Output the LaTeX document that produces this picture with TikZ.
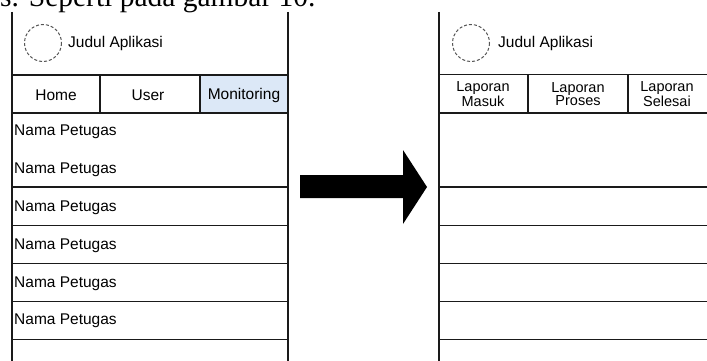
\documentclass[tikz,border=0pt]{standalone}
\usepackage{fontspec}
\setmainfont{Liberation Serif}
\newfontfamily\uifont{Liberation Sans}
\definecolor{frameline}{HTML}{1A1A1A}
\definecolor{tabactive}{HTML}{DCE8F7}
\definecolor{logoline}{HTML}{555555}
\begin{document}
\begin{tikzpicture}[x=1pt,y=-1pt,
  frame/.style={draw=frameline,line width=1.5pt},
  logo/.style={draw=logoline,dashed,line width=1pt,dash pattern=on 3pt off 2pt},
  ui/.style={font=\uifont\fontsize{15.5}{16}\selectfont,text=black,inner sep=0pt},
  tabtxt/.style={font=\uifont\fontsize{14.5}{13.5}\selectfont,text=black,inner sep=0pt,align=center},
  bodytext/.style={font=\fontsize{29.5}{32}\selectfont,inner sep=0pt}]
\useasboundingbox (0,0) rectangle (707,361);
\clip (0,0) rectangle (707,361);
\fill[white] (0,0) rectangle (707,361);

% running text line above the figure
\node[bodytext,anchor=base west] (caption) at (0,7) {s. Seperti pada gambar 10.};

% ---------- left screen: monitoring ----------
\fill[tabactive] (200,75) rectangle (288,113);
\draw[frame] (12,12) -- (12,365);
\draw[frame] (288,12) -- (288,365);
\draw[frame] (12,75) -- (288,75);
\draw[frame] (12,113) -- (288,113);
\draw[frame] (100,75) -- (100,113);
\draw[frame] (200,75) -- (200,113);
\foreach \y in {187,225.5,263.5,301.5,339.5} \draw[frame] (12,\y) -- (288,\y);

\draw[logo] (43,43) circle (18.5);
\node[ui,anchor=west] (titleL) at (68,43) {Judul Aplikasi};
\node[ui] (home) at (56,95) {Home};
\node[ui] (user) at (148,95) {User};
\node[ui] (monitor) at (244,95) {Monitoring};
\node[ui,anchor=west] (nama1) at (14,132) {Nama Petugas};
\node[ui,anchor=west] (nama2) at (14,170) {Nama Petugas};
\node[ui,anchor=west] (nama3) at (14,207.5) {Nama Petugas};
\node[ui,anchor=west] (nama4) at (14,245.5) {Nama Petugas};
\node[ui,anchor=west] (nama5) at (14,283.5) {Nama Petugas};
\node[ui,anchor=west] (nama6) at (14,320.5) {Nama Petugas};

% ---------- block arrow ----------
\fill[black] (300,175) -- (403,175) -- (403,150) -- (427,187) -- (403,224)
  -- (403,198) -- (300,198) -- cycle;

% ---------- right screen: reports ----------
\draw[frame] (439,12) -- (439,365);
\draw[frame] (439,74.5) -- (710,74.5);
\draw[frame] (439,113) -- (710,113);
\draw[frame] (528,74.5) -- (528,113);
\draw[frame] (628,74.5) -- (628,113);
\foreach \y in {187,225.5,263.5,301.5,339.5} \draw[frame] (439,\y) -- (710,\y);

\draw[logo] (471,43) circle (18.5);
\node[ui,anchor=west] (titleR) at (498,43) {Judul Aplikasi};
\node[tabtxt] (masuk) at (483,94) {Laporan\\Masuk};
\node[tabtxt] (proses) at (578,94) {Laporan\\Proses};
\node[tabtxt] (selesai) at (667,94) {Laporan\\Selesai};
\end{tikzpicture}
\end{document}
